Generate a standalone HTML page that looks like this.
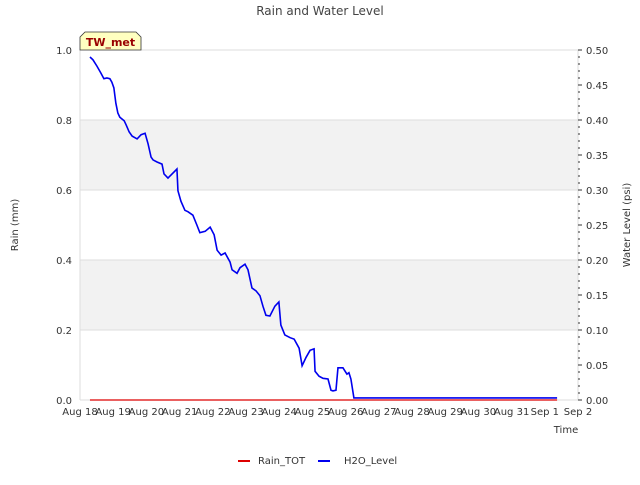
<!DOCTYPE html>
<html><head><meta charset="utf-8"><style>
body{margin:0;background:#fff;font-family:"Liberation Sans","DejaVu Sans",sans-serif}
svg text{font-family:"DejaVu Sans","Liberation Sans",sans-serif}
</style></head><body>
<svg id="c" width="640" height="480" xmlns="http://www.w3.org/2000/svg"></svg>
<script>
const xTickLabels=["Aug 18","Aug 19","Aug 20","Aug 21","Aug 22","Aug 23","Aug 24","Aug 25","Aug 26","Aug 27","Aug 28","Aug 29","Aug 30","Aug 31","Sep 1","Sep 2"];
const leftTicks=[0,0.2,0.4,0.6,0.8,1.0];
const rightTicks=[0,0.05,0.10,0.15,0.20,0.25,0.30,0.35,0.40,0.45,0.50];
const h2oDays=[0.30,0.39,0.51,0.63,0.72,0.81,0.90,0.96,1.02,1.08,1.14,1.20,1.33,1.39,1.48,1.57,1.72,1.84,1.96,2.05,2.14,2.20,2.32,2.47,2.53,2.65,2.71,2.92,2.95,3.04,3.16,3.25,3.40,3.52,3.61,3.77,3.92,4.04,4.13,4.25,4.37,4.52,4.58,4.73,4.82,4.97,5.06,5.18,5.30,5.42,5.51,5.60,5.72,5.87,5.99,6.05,6.17,6.33,6.45,6.60,6.69,6.81,6.93,7.05,7.08,7.20,7.32,7.47,7.56,7.62,7.71,7.77,7.92,8.04,8.10,8.16,8.25,8.28,14.37];
const h2oValues=[.490,.486,.477,.467,.459,.460,.459,.454,.446,.424,.410,.404,.399,.393,.383,.377,.373,.379,.381,.366,.347,.343,.340,.337,.323,.317,.320,.330,.299,.284,.271,.269,.264,.250,.239,.241,.247,.236,.214,.207,.210,.197,.186,.181,.189,.194,.186,.160,.156,.149,.134,.121,.120,.134,.140,.107,.093,.089,.087,.074,.049,.061,.071,.073,.041,.034,.031,.030,.014,.013,.014,.046,.046,.037,.039,.030,.003,.003,.003];
const rainDays=[0.30,14.37];
const rainValues=[0,0];

const L=80,R=578,T=50,B=400;
const x=d=>L+d*(R-L)/15;
const yL=v=>B-v*(B-T)/1.0;
const yR=v=>B-v*(B-T)/0.5;
const svg=document.getElementById('c');
const NS="http://www.w3.org/2000/svg";
function mk(tag,at,txt){const e=document.createElementNS(NS,tag);for(const k in at)e.setAttribute(k,at[k]);if(txt!==undefined)e.textContent=txt;svg.appendChild(e);return e;}

// bands
[[0.2,0.4],[0.6,0.8]].forEach(b=>{
 const e=mk('rect',{x:L,y:yL(b[1]),width:R-L,height:yL(b[0])-yL(b[1]),fill:'#f2f2f2'});
 
 
});
leftTicks.forEach(v=>{
 const g=mk('line',{x1:L,x2:R,y1:yL(v),y2:yL(v),stroke:'#dddddd','stroke-width':1});
 
 
 const t=mk('text',{x:72,y:yL(v)+4,'font-size':10,fill:'#333','text-anchor':'end'},v.toFixed(1));
 
 
});
// frame
mk('line',{x1:L,x2:L,y1:T,y2:B,stroke:'#dddddd'});
mk('line',{x1:R,x2:R,y1:T,y2:B,stroke:'#dddddd'});
mk('line',{x1:L,x2:R,y1:B,y2:B,stroke:'#dddddd'});
rightTicks.forEach(v=>{
 mk('line',{x1:R,x2:R+4,y1:yR(v),y2:yR(v),stroke:'#333'});
 const t=mk('text',{x:586,y:yR(v)+4,'font-size':10,fill:'#333'},v.toFixed(2));
 
 
});
for(let v=0;v<=0.5001;v+=0.01){mk('line',{x1:R,x2:R+2,y1:yR(v),y2:yR(v),stroke:'#333'});}
xTickLabels.forEach((s,i)=>{
 const t=mk('text',{x:x(i),y:415,'font-size':10,fill:'#333','text-anchor':'middle'},s);
 
 
});
// series
let rp=rainDays.map((d,i)=>x(d)+','+yL(rainValues[i])).join(' ');
const rl=mk('polyline',{points:rp,fill:'none',stroke:'#dd0000','stroke-width':1.2});


let hp=h2oDays.map((d,i)=>x(d)+','+yR(h2oValues[i])).join(' ');
const hl=mk('polyline',{points:hp,fill:'none',stroke:'#0000ee','stroke-width':1.6});


// texts
const tt=mk('text',{x:320,y:15,'font-size':12,fill:'#444','text-anchor':'middle'},'Rain and Water Level');


const yl=mk('text',{x:18,y:225,'font-size':10,fill:'#333','text-anchor':'middle',transform:'rotate(-90 18 225)'},'Rain (mm)');


const yr=mk('text',{x:630,y:225,'font-size':10,fill:'#333','text-anchor':'middle',transform:'rotate(-90 630 225)'},'Water Level (psi)');


const xt=mk('text',{x:566,y:433,'font-size':10,fill:'#333','text-anchor':'middle'},'Time');


// site label
const bx=mk('path',{d:'M80,50 L80,37 L85,32 L136,32 L141,37 L141,50 Z',fill:'#ffffc0',stroke:'#333','stroke-width':0.8});


const bt=mk('text',{x:110.5,y:46,'font-size':11,'font-weight':'bold',fill:'#990000','text-anchor':'middle'},'TW_met');


// legend
const l1=mk('line',{x1:238,x2:250,y1:461,y2:461,stroke:'#dd0000','stroke-width':2});


const t1=mk('text',{x:258,y:464,'font-size':10,fill:'#333'},'Rain_TOT');


const l2=mk('line',{x1:318,x2:330,y1:461,y2:461,stroke:'#0000ee','stroke-width':2});


const t2=mk('text',{x:344,y:464,'font-size':10,fill:'#333'},'H2O_Level');


</script>
</body></html>
